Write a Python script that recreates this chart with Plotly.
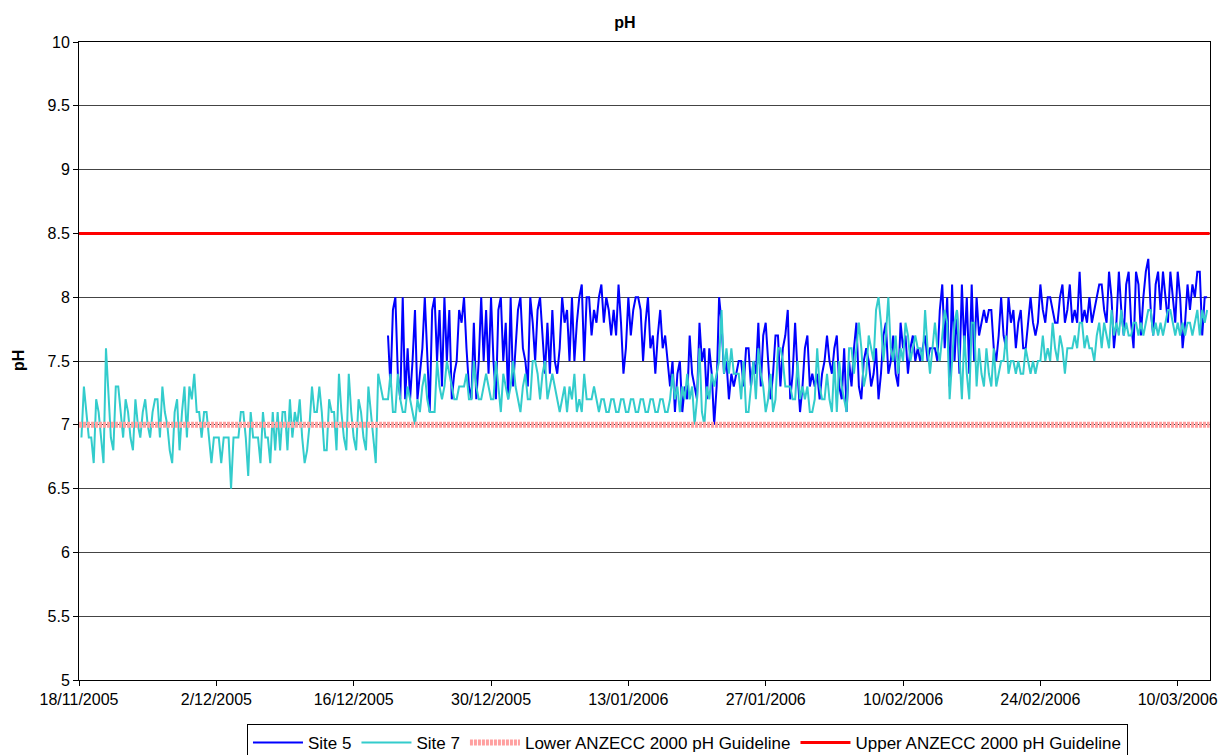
import pandas as pd
import plotly.graph_objects as go

# ---- data (pH readings, 4 per day) ----
site7_start = "2005-11-18 06:00"
site7 = [
    6.9, 7.3, 7.1, 6.9,  6.9, 6.7, 7.2, 7.1,  6.9, 6.7, 7.6, 7.2,  6.9, 6.8, 7.3, 7.3,
    7.1, 6.9, 7.2, 7.1,  6.9, 6.8, 7.2, 7.0,  6.9, 7.1, 7.2, 7.0,
    6.9, 7.1, 7.2, 7.2,  6.9, 7.3, 7.1, 7.0,  6.8, 6.7, 7.1, 7.2,  6.8, 7.1, 7.3, 6.9,
    7.3, 7.2, 7.4, 7.1,  7.1, 6.9, 7.1, 7.1,  6.9, 6.7, 6.9, 6.9,
    6.9, 6.7, 6.9, 6.9,  6.9, 6.5, 6.9, 6.9,  6.9, 7.1, 7.1, 6.9,  6.6, 7.1, 6.9, 6.9,
    6.9, 6.7, 7.1, 6.9,  6.9, 6.7, 7.1, 6.8,  7.1, 6.8, 7.1, 7.1,
    6.8, 7.2, 6.9, 7.1,  7.0, 7.2, 6.9, 6.7,  6.8, 7.0, 7.3, 7.1,  7.1, 7.3, 7.1, 6.8,
    6.8, 7.2, 7.1, 7.1,  6.8, 7.4, 7.1, 6.9,  6.8, 7.4, 7.1, 6.9,
    6.8, 7.2, 7.1, 6.9,  6.8, 7.3, 7.1, 6.9,  6.7, 7.4, 7.3, 7.2,  7.2, 7.2, 7.4, 7.1,
    7.1, 7.4, 7.2, 7.1,  7.1, 7.3, 7.2, 7.1,  7.0, 7.2, 7.1, 7.3,
    7.4, 7.2, 7.1, 7.1,  7.1, 7.5, 7.3, 7.2,  7.3, 7.5, 7.4, 7.3,  7.2, 7.2, 7.3, 7.3,
    7.3, 7.4, 7.2, 7.2,  7.5, 7.3, 7.2, 7.2,  7.3, 7.4, 7.3, 7.2,
    7.2, 7.5, 7.3, 7.1,  7.4, 7.3, 7.2, 7.3,  7.5, 7.3, 7.2, 7.1,  7.3, 7.4, 7.2, 7.2,
    7.5, 7.5, 7.4, 7.2,  7.4, 7.5, 7.2, 7.3,  7.4, 7.3, 7.2, 7.1,
    7.2, 7.3, 7.1, 7.3,  7.2, 7.4, 7.1, 7.2,  7.1, 7.4, 7.2, 7.2,  7.2, 7.3, 7.2, 7.1,
    7.2, 7.2, 7.1, 7.1,  7.2, 7.2, 7.1, 7.1,  7.2, 7.2, 7.1, 7.1,
    7.2, 7.2, 7.1, 7.1,  7.2, 7.2, 7.1, 7.1,  7.2, 7.2, 7.1, 7.1,  7.2, 7.2, 7.1, 7.1,
    7.2, 7.4, 7.2, 7.3,  7.1, 7.3, 7.2, 7.4,  7.2, 7.3, 7.0, 7.2,
    7.6, 7.1, 7.0, 7.3,  7.2, 7.4, 7.3, 7.4,  7.5, 7.9, 7.4, 7.6,  7.4, 7.6, 7.4, 7.4,
    7.4, 7.2, 7.5, 7.1,  7.1, 7.3, 7.5, 7.2,  7.6, 7.4, 7.3, 7.1,
    7.2, 7.4, 7.1, 7.2,  7.6, 7.6, 7.5, 7.3,  7.3, 7.3, 7.2, 7.2,  7.5, 7.2, 7.3, 7.2,
    7.3, 7.1, 7.1, 7.2,  7.6, 7.3, 7.2, 7.2,  7.4, 7.2, 7.1, 7.5,
    7.1, 7.5, 7.3, 7.2,  7.1, 7.6, 7.6, 7.4,  7.6, 7.8, 7.6, 7.3,  7.4, 7.7, 7.6, 7.5,
    7.9, 8.0, 7.8, 7.5,  7.7, 8.0, 7.6, 7.5,  7.7, 7.4, 7.6, 7.5,
    7.8, 7.7, 7.5, 7.6,  7.7, 7.6, 7.6, 7.5,  7.9, 7.6, 7.4, 7.6,  7.8, 7.6, 7.5, 7.7,
    7.9, 7.8, 7.2, 7.5,  7.8, 7.9, 7.5, 7.2,  7.7, 7.4, 7.2, 7.8,
    7.8, 7.3, 7.6, 7.4,  7.3, 7.6, 7.4, 7.3,  7.6, 7.3, 7.4, 7.5,  7.5, 7.7, 7.4, 7.5,
    7.5, 7.4, 7.5, 7.4,  7.4, 7.6, 7.5, 7.4,  7.5, 7.4, 7.5, 7.5,
    7.7, 7.5, 7.6, 7.5,  7.8, 7.6, 7.5, 7.7,  7.6, 7.4, 7.6, 7.6,  7.6, 7.7, 7.6, 7.8,
    7.8, 7.6, 7.7, 7.6,  7.6, 7.5, 7.7, 7.8,  7.6, 7.8, 7.7, 7.6,
    7.9, 7.7, 7.8, 7.7,  7.9, 7.7, 7.8, 7.7,  7.7, 7.8, 7.8, 7.7,  7.8, 7.7, 7.8, 7.9,
    7.9, 7.7, 7.8, 7.7,  7.8, 7.7, 7.8, 7.9,  7.9, 7.8, 7.7, 7.8,
    7.7, 7.8, 7.7, 7.8,  7.8, 7.7, 7.8, 7.9,  7.7, 7.9, 7.8, 7.9,
]

site5_start = "2005-12-19 12:00"
site5 = [
    7.7, 7.3,
    7.9, 8.0, 7.4, 7.2,  8.0, 7.2, 7.6, 7.2,  7.5, 7.9, 7.2, 7.4,  7.6, 8.0, 7.5, 7.1,
    7.9, 8.0, 7.5, 7.9,  7.3, 8.0, 7.5, 7.9,  7.2, 7.4, 7.5, 7.9,
    7.8, 8.0, 7.6, 7.3,  7.2, 7.8, 7.2, 7.5,  8.0, 7.5, 7.9, 7.4,  8.0, 7.5, 7.2, 7.9,
    8.0, 7.5, 7.8, 7.2,  8.0, 7.3, 7.6, 7.9,  8.0, 7.6, 7.5, 7.3,
    8.0, 7.8, 7.5, 7.9,  8.0, 7.7, 7.4, 7.8,  7.4, 7.9, 7.5, 7.4,  7.6, 8.0, 7.8, 7.9,
    7.5, 8.0, 7.5, 7.8,  8.0, 8.1, 7.5, 8.0,  8.0, 7.7, 7.9, 7.8,
    8.0, 8.1, 7.8, 8.0,  7.9, 7.7, 7.9, 7.7,  8.1, 7.8, 7.4, 7.6,  8.0, 7.7, 7.9, 8.0,
    8.0, 7.9, 7.5, 7.8,  8.0, 7.6, 7.7, 7.4,  7.7, 7.9, 7.6, 7.7,
    7.5, 7.3, 7.5, 7.1,  7.4, 7.5, 7.1, 7.3,  7.2, 7.7, 7.4, 7.3,  7.2, 7.8, 7.5, 7.6,
    7.2, 7.6, 7.4, 7.0,  7.3, 8.0, 7.8, 7.4,  7.5, 7.2, 7.4, 7.3,
    7.4, 7.5, 7.5, 7.3,  7.6, 7.6, 7.3, 7.5,  7.4, 7.8, 7.3, 7.7,  7.8, 7.5, 7.2, 7.4,
    7.7, 7.7, 7.3, 7.6,  7.7, 7.9, 7.2, 7.4,  7.8, 7.4, 7.1, 7.3,
    7.6, 7.7, 7.3, 7.4,  7.3, 7.4, 7.2, 7.4,  7.5, 7.7, 7.5, 7.4,  7.6, 7.7, 7.3, 7.2,
    7.6, 7.1, 7.5, 7.3,  7.6, 7.8, 7.3, 7.2,  7.5, 7.6, 7.5, 7.3,
    7.4, 7.6, 7.2, 7.4,  7.7, 7.8, 7.4, 7.5,  7.7, 7.4, 7.3, 7.8,  7.6, 7.7, 7.4, 7.6,
    7.7, 7.5, 7.6, 7.5,  7.6, 7.7, 7.5, 7.6,  7.6, 7.6, 7.5, 7.9,
    8.1, 7.6, 8.0, 7.3,  8.1, 7.5, 7.9, 7.4,  8.1, 7.6, 8.0, 7.4,  8.1, 7.5, 8.0, 7.7,
    7.8, 7.9, 7.8, 7.9,  7.9, 7.6, 7.5, 7.7,  8.0, 7.7, 7.6, 8.0,
    7.8, 7.9, 7.6, 7.8,  7.9, 7.6, 7.6, 7.8,  8.0, 7.8, 7.7, 7.8,  8.1, 7.9, 7.8, 8.0,
    8.0, 7.9, 7.8, 7.8,  8.0, 8.1, 7.8, 7.9,  8.1, 7.8, 7.9, 7.8,
    8.2, 7.8, 7.9, 7.8,  8.0, 7.8, 7.9, 8.0,  8.1, 8.1, 7.9, 7.8,  8.2, 8.0, 7.6, 7.8,
    8.2, 7.9, 7.7, 8.1,  8.2, 7.8, 7.6, 8.2,  8.1, 7.7, 8.0, 8.2,
    8.3, 7.9, 7.7, 8.1,  8.2, 7.9, 8.2, 8.0,  7.8, 8.2, 8.0, 7.8,  8.2, 8.0, 7.6, 7.8,
    8.1, 7.9, 8.1, 8.0,  8.2, 8.2, 7.7, 8.0,
    8.0,
]

guide_dates = ["2005-11-18 00:00", "2006-03-13 06:00"]
lower_guideline = [7.0, 7.0]
upper_guideline = [8.5, 8.5]

tick_dates = ["2005-11-18", "2005-12-02", "2005-12-16", "2005-12-30", "2006-01-13",
              "2006-01-27", "2006-02-10", "2006-02-24", "2006-03-10"]
tick_labels = ["18/11/2005", "2/12/2005", "16/12/2005", "30/12/2005", "13/01/2006",
               "27/01/2006", "10/02/2006", "24/02/2006", "10/03/2006"]

x7 = pd.date_range(site7_start, periods=len(site7), freq="6h")
x5 = pd.date_range(site5_start, periods=len(site5), freq="6h")
xg = [pd.Timestamp(d) for d in guide_dates]
xt = [pd.Timestamp(d) for d in tick_dates]

FONT = "Liberation Sans, Arial, sans-serif"

fig = go.Figure()
fig.add_trace(go.Scatter(x=x5, y=site5, mode="lines", name="Site 5",
                         line=dict(color="#0000FF", width=2)))
fig.add_trace(go.Scatter(x=x7, y=site7, mode="lines", name="Site 7",
                         line=dict(color="#33CCCC", width=2)))
fig.add_trace(go.Scatter(x=xg, y=lower_guideline, mode="lines",
                         name="Lower ANZECC 2000 pH Guideline",
                         line=dict(color="#FFA0A0", width=6, dash="3px,1px")))
fig.add_trace(go.Scatter(x=xg, y=upper_guideline, mode="lines",
                         name="Upper ANZECC 2000 pH Guideline",
                         line=dict(color="#FF0000", width=3)))

fig.update_layout(
    width=1227, height=755,
    margin=dict(l=79, r=17, t=42, b=75, autoexpand=False),
    paper_bgcolor="white", plot_bgcolor="white",
    font=dict(family=FONT, size=16, color="black"),
    title=dict(text="<b>pH</b>", xref="container", x=625/1227, xanchor="center",
               yref="container", y=1 - 22/755, yanchor="middle",
               font=dict(family=FONT, size=16, color="black")),
    showlegend=True,
    legend=dict(orientation="h", x=0.538, xanchor="center", y=-0.069, yanchor="top",
                bordercolor="black", borderwidth=1, bgcolor="white",
                font=dict(family=FONT, size=17, color="black"),
                tracegroupgap=0, itemwidth=50),
)

fig.update_xaxes(
    type="date",
    range=[pd.Timestamp("2005-11-18 00:00"), pd.Timestamp("2006-03-13 07:00")],
    tickvals=xt, ticktext=tick_labels,
    ticks="outside", ticklen=5, tickcolor="black",
    showline=True, linecolor="black", linewidth=1, mirror=True,
    showgrid=False, zeroline=False,
    tickfont=dict(family=FONT, size=16, color="black"),
)
fig.update_yaxes(
    range=[5, 10], dtick=0.5, tick0=5,
    ticks="outside", ticklen=5, tickcolor="black",
    showline=True, linecolor="black", linewidth=1, mirror=True,
    showgrid=True, gridcolor="#444444", gridwidth=1, zeroline=False,
    tickfont=dict(family=FONT, size=16, color="black"),
)

fig.add_annotation(text="<b>pH</b>", xref="paper", yref="paper",
                   x=(18 - 79) / 1131, y=0.5, textangle=-90, showarrow=False,
                   xanchor="center", yanchor="middle",
                   font=dict(family=FONT, size=16, color="black"))

fig.write_html("out.html")
